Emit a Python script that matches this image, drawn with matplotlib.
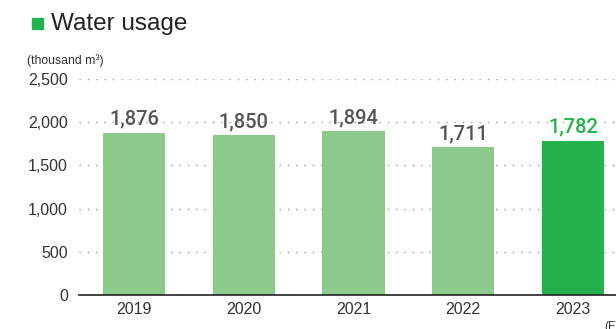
import matplotlib.pyplot as plt
from matplotlib.patches import Rectangle

years = ["2019", "2020", "2021", "2022", "2023"]
usage = [1876, 1850, 1894, 1711, 1782]
y_ticks = [0, 500, 1000, 1500, 2000, 2500]

light_green = "#8bca8a"
dark_green = "#24b24d"

fig = plt.figure(figsize=(6.16, 3.29), dpi=100)
ax = fig.add_axes([79 / 616, 34 / 329, (628 - 79) / 616, 216 / 329])

x = range(len(years))
colors = [light_green] * (len(years) - 1) + [dark_green]
ax.bar(x, usage, width=0.565, color=colors, zorder=2)

ax.set_xlim(-0.5, len(years) - 0.5)
ax.set_ylim(0, 2500)
ax.set_yticks(y_ticks)
ax.set_yticklabels([f"{v:,}" for v in y_ticks], fontsize=11.5, color="#333333",
                   family="Liberation Sans")
ax.set_xticks(list(x))
ax.set_xticklabels(years, fontsize=11.5, color="#333333", family="Liberation Sans")
ax.tick_params(axis="both", length=0)
ax.tick_params(axis="y", pad=8)
ax.tick_params(axis="x", pad=5)

for s in ["top", "right", "left"]:
    ax.spines[s].set_visible(False)
ax.spines["bottom"].set_color("#222222")
ax.spines["bottom"].set_linewidth(1.2)
ax.spines["bottom"].set_zorder(3)

ax.yaxis.grid(True, linestyle=(0, (1, 5)), color="#999999", linewidth=1, zorder=1)
ax.set_axisbelow(True)

for i, v in enumerate(usage):
    col = dark_green if i == len(usage) - 1 else "#555555"
    ax.annotate(f"{v:,}", (i, v), xytext=(0, 3), textcoords="offset points",
                ha="center", va="bottom", fontsize=14.5, color=col,
                family="Roboto", weight="medium")

# heading with colour marker
fig.patches.append(Rectangle((32 / 616, 1 - 29 / 329), 11 / 616, 11 / 329,
                             transform=fig.transFigure, color=dark_green))
fig.text(51 / 616, 1 - 24 / 329, "Water usage", fontsize=17.5, color="#222222",
         va="center", ha="left", family="Liberation Sans")
fig.text(27 / 616, 1 - 61 / 329, "(thousand m³)", fontsize=8.8, color="#333333",
         va="center", ha="left", family="Liberation Sans")
fig.text(604 / 616, 1 - 321 / 329, "(FY)", fontsize=8.5, color="#333333",
         va="top", ha="left", family="Liberation Sans")

fig.savefig("out.png", dpi=100)
